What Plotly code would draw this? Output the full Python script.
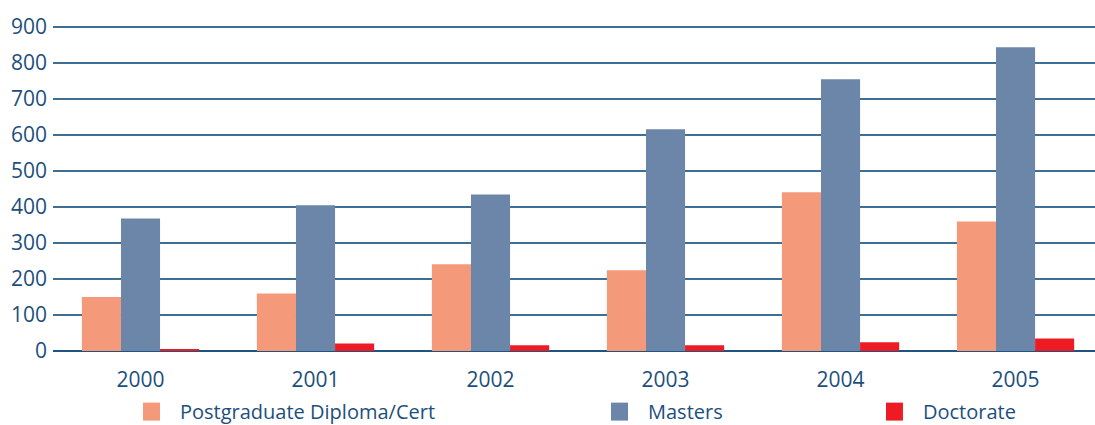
import plotly.graph_objects as go

years = ["2000", "2001", "2002", "2003", "2004", "2005"]
series_names = ["Postgraduate Diploma/Cert", "Masters", "Doctorate"]
postgrad = [150, 160, 241, 224, 441, 360]
masters = [368, 405, 435, 616, 755, 844]
doctorate = [5, 21, 16, 16, 24, 35]
colors = ["#F4997A", "#6B86A9", "#ED1C24"]

text_color = "#1D4F7C"
grid_color = "#3D6F95"
font_family = "Open Sans, Noto Sans, sans-serif"

fig = go.Figure()
for name, vals, col in zip(series_names, [postgrad, masters, doctorate], colors):
    fig.add_trace(go.Bar(x=years, y=vals, name=name, marker=dict(color=col, line=dict(width=0)),
                         showlegend=False))

# Hand-placed legend row beneath the axis
legend_x = [0.0864, 0.5355, 0.7994]
for name, col, lx in zip(series_names, colors, legend_x):
    fig.add_shape(type="rect", xref="paper", yref="paper",
                  x0=lx, x1=lx + 0.0163, y0=-0.209, y1=-0.155,
                  fillcolor=col, line=dict(width=0))
    fig.add_annotation(x=lx + 0.0336, y=-0.181, xref="paper", yref="paper",
                       text=name, showarrow=False, xanchor="left", yanchor="middle",
                       font=dict(size=20, color=text_color, family=font_family))

fig.update_layout(
    width=1095, height=425,
    margin=dict(l=53, r=0, t=18, b=74),
    paper_bgcolor="white", plot_bgcolor="white",
    barmode="group", bargap=0.33, bargroupgap=0,
    font=dict(family=font_family, color=text_color),
)
fig.update_xaxes(
    type="category", range=[-0.5, 5.454], showgrid=False, showline=False,
    ticks="", tickfont=dict(size=21, color=text_color), ticklabelstandoff=14,
)
fig.update_yaxes(
    range=[0, 925], tickvals=list(range(0, 1000, 100)),
    showgrid=True, gridcolor=grid_color, gridwidth=2,
    zeroline=True, zerolinecolor="#1F5480", zerolinewidth=2,
    showline=False, ticks="", tickfont=dict(size=21, color=text_color),
    ticklabelstandoff=5,
)

fig.write_html("out.html")
